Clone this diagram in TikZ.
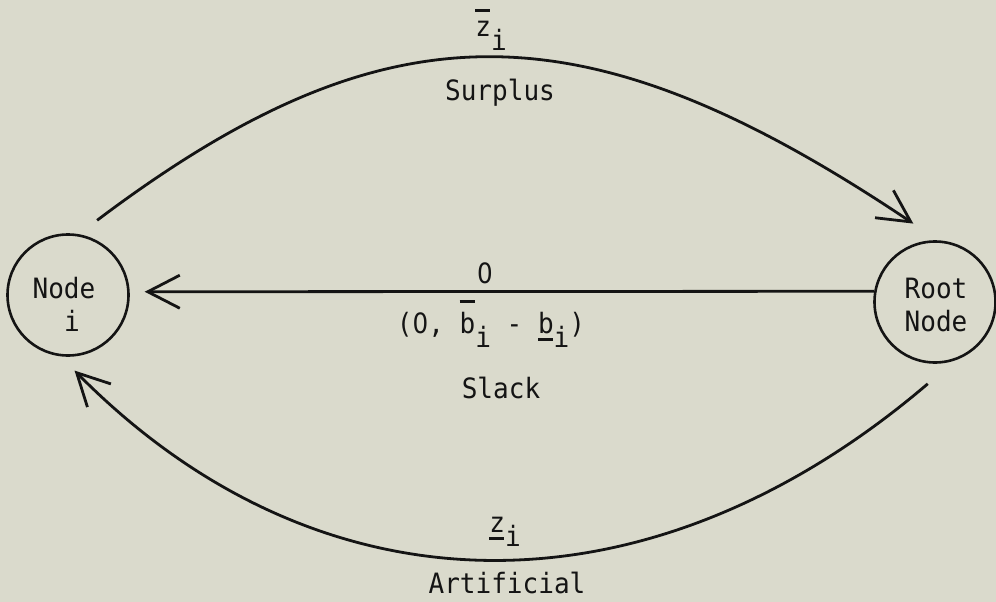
\documentclass[tikz,border=0pt]{standalone}
\usepackage{fontspec}
\setmainfont[FakeStretch=0.93]{DejaVu Sans Mono}
\newfontfamily\plainzero[FakeStretch=0.88]{DejaVu Sans}
\usetikzlibrary{arrows.meta}
\definecolor{paper}{RGB}{218,218,204}
\definecolor{ink}{RGB}{20,20,20}
% bars, the dropped subscript and the open zero of the typed labels
\newcommand{\topbar}[2]{\makebox[0pt][l]{\rule[#2]{15pt}{2.6pt}}#1}
\newcommand{\lowbar}[1]{\makebox[0pt][l]{\rule[-8pt]{15pt}{2.6pt}}#1}
\newcommand{\lowi}{\raisebox{-14pt}{i}}
\newcommand{\zero}{{\plainzero 0}}

\begin{document}
\begin{tikzpicture}[x=1pt, y=-1pt, >={Straight Barb[length=32pt, width=33pt]},
    every node/.style={font=\fontsize{28}{33}\selectfont, text=ink},
    vertex/.style={circle, draw=ink, line width=2.6pt, minimum size=121pt, inner sep=0pt},
    arc/.style={->, draw=ink, line width=2.8pt},
    tag/.style={anchor=base}]
                \fill[paper] (0,0) rectangle (996,602);
                \useasboundingbox (0,0) rectangle (996,602);
                \node[vertex] (nodei) at (68,295) {};
                \node[vertex] (root) at (935,302) {};
                \node[align=left] (nodeitext) at (64,305) {Node\\\phantom{No}i};
                \node[align=left] (roottext) at (936,305) {Root\\Node};
                % arcs between the two nodes
                \draw[arc, shorten <=23pt, shorten >=30pt] (nodei.80) .. controls (387,2) and (583,2) .. (root.87);
                \draw[arc, shorten >=15pt] (root.170) -- (nodei.3);
                \draw[arc, shorten <=36pt, shorten >=20pt] (root.-71) .. controls (650,621) and (322,621) .. (nodei.-97);
                % labels
                \node[tag] (zup) at (491,37) {\topbar{z}{25pt}\lowi};
                \node[tag] (surplus) at (500,100) {Surplus};
                \node[tag] (cost) at (485,283) {\zero};
                \node[tag] (bounds) at (491,333) {(\zero, \topbar{b}{30pt}\lowi{} - \lowbar{b}\lowi)};
                \node[tag] (slack) at (501,398) {Slack};
                \node[tag] (zlow) at (505,532) {\lowbar{z}\lowi};
                \node[tag] (artificial) at (507,593) {Artificial};
            \end{tikzpicture}
\end{document}
